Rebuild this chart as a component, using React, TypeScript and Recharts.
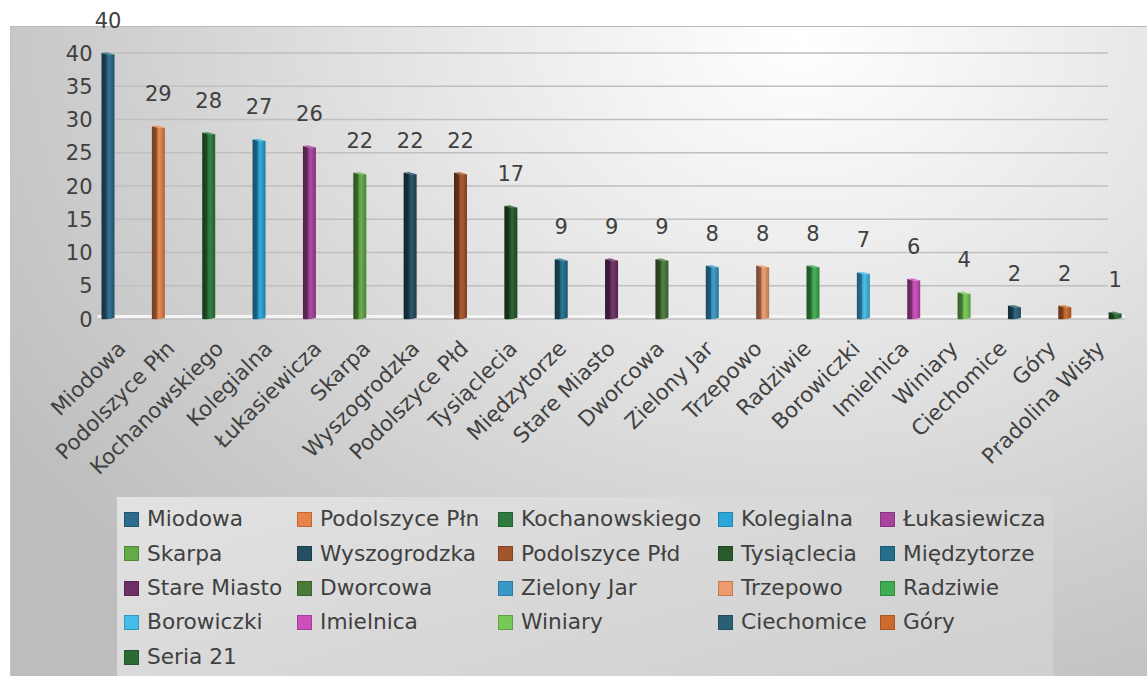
import React from 'react';
import { BarChart, Bar, XAxis, YAxis, CartesianGrid, LabelList, Cell, Legend } from 'recharts';

const categories = [
  'Miodowa', 'Podolszyce Płn', 'Kochanowskiego', 'Kolegialna', 'Łukasiewicza', 'Skarpa',
  'Wyszogrodzka', 'Podolszyce Płd', 'Tysiąclecia', 'Międzytorze', 'Stare Miasto', 'Dworcowa',
  'Zielony Jar', 'Trzepowo', 'Radziwie', 'Borowiczki', 'Imielnica', 'Winiary', 'Ciechomice',
  'Góry', 'Pradolina Wisły',
];
const values = [40, 29, 28, 27, 26, 22, 22, 22, 17, 9, 9, 9, 8, 8, 8, 7, 6, 4, 2, 2, 1];
const seriesNames = [
  'Miodowa', 'Podolszyce Płn', 'Kochanowskiego', 'Kolegialna', 'Łukasiewicza', 'Skarpa',
  'Wyszogrodzka', 'Podolszyce Płd', 'Tysiąclecia', 'Międzytorze', 'Stare Miasto', 'Dworcowa',
  'Zielony Jar', 'Trzepowo', 'Radziwie', 'Borowiczki', 'Imielnica', 'Winiary', 'Ciechomice',
  'Góry', 'Seria 21',
];
const seriesColors = [
  '#2b6b8c', '#e8834a', '#2f7a3e', '#2aa6da', '#a8449e', '#63ab46', '#244f62', '#a2542b',
  '#285a2e', '#236f8c', '#6e2f66', '#4a7a3a', '#3a98c8', '#ee9a6c', '#3fad52', '#43bde9',
  '#cc4fbc', '#76c956', '#2a5f78', '#cf6a2e', '#2d6b36',
];
const yTicks = [0, 5, 10, 15, 20, 25, 30, 35, 40];

const data = categories.map((name, i) => ({ name, value: values[i] }));

const FONT = "'DejaVu Sans', sans-serif";
const TEXT = '#404040';

const shade = (hex: string, f: number) => {
  const n = parseInt(hex.slice(1), 16);
  const ch = [(n >> 16) & 255, (n >> 8) & 255, n & 255].map((c) => {
    const v = f <= 1 ? c * f : c + (255 - c) * (f - 1);
    return Math.max(0, Math.min(255, Math.round(v)));
  });
  return '#' + ch.map((c) => c.toString(16).padStart(2, '0')).join('');
};

const CylBar = (props: any) => {
  const { x, y, width, height, fill } = props;
  let index = props.index;
  if (index === undefined && props.payload) index = categories.indexOf(props.payload.name);
  const base = fill || seriesColors[index] || '#888';
  const id = `cyl-${index}`;
  const w = width;
  return (
    <g>
      <defs>
        <linearGradient id={id} x1="0" y1="0" x2="1" y2="0">
          <stop offset="0" stopColor={shade(base, 0.48)} />
          <stop offset="0.36" stopColor={shade(base, 0.6)} />
          <stop offset="0.42" stopColor={shade(base, 0.88)} />
          <stop offset="0.6" stopColor={shade(base, 1.05)} />
          <stop offset="1" stopColor={shade(base, 0.75)} />
        </linearGradient>
      </defs>
      <path
        d={`M${x},${y} L${x + w},${y + 1.5} L${x + w},${y + height - 1.2} Q${x + w * 0.5},${y + height + 1} ${x},${y + height} Z`}
        fill={`url(#${id})`}
      />
      <path
        d={`M${x},${y} L${x + w * 0.4},${y - 0.8} L${x + w},${y + 1.5} L${x + w * 0.6},${y + 2.3} Z`}
        fill={shade(base, 1.2)}
      />
    </g>
  );
};

const gridLine = (props: any) => {
  const { x1, x2, y1, index } = props;
  const isFloor = props.y !== undefined && props.height !== undefined
    ? Math.abs(y1 - (props.y + props.height)) < 0.5
    : index === 0;
  if (isFloor) {
    return (
      <g key={`grid-${index}`}>
        <rect x={x1 + 15} y={y1 - 4} width={x2 - x1 - 30} height={4} fill="#f4f4f4" />
        <line x1={x1 + 15} x2={x2 - 15} y1={y1} y2={y1} stroke="#bdbdbd" strokeWidth={1.5} />
      </g>
    );
  }
  return (
    <line key={`grid-${index}`} x1={x1 + 17.5} x2={x2 - 32} y1={y1} y2={y1} stroke="#bfbfbf" strokeWidth={1.5} />
  );
};

const YTick = (props: any) => {
  const { x, y, payload } = props;
  return (
    <text x={x + 10} y={y} dy="0.36em" textAnchor="end" fill={TEXT} fontSize={21} fontFamily={FONT}>
      {payload.value}
    </text>
  );
};

const XTick = (props: any) => {
  const { x, y, payload } = props;
  return (
    <g transform={`translate(${x + 12},${y + 1})`}>
      <text x={0} y={0} transform="rotate(-45)" textAnchor="end" fill={TEXT} fontSize={21.4} fontFamily={FONT}>
        {payload.value}
      </text>
    </g>
  );
};

const colLefts = [124, 297, 498, 718, 880];
const rowCenters = [519, 553.5, 588, 622, 657];
const LEG_LEFT = 117;
const LEG_TOP = 497;

const LegendContent = () => (
  <div
    style={{
      position: 'relative',
      width: 936,
      height: 179,
      background: 'linear-gradient(165deg, #e2e2e2 0%, #d8d8d8 50%, #cfcfcf 100%)',
      fontFamily: FONT,
    }}
  >
    {seriesNames.map((name, i) => {
      const col = i % 5;
      const row = Math.floor(i / 5);
      const left = colLefts[col] - LEG_LEFT;
      const cy = rowCenters[row] - LEG_TOP;
      return (
        <div key={name} style={{ position: 'absolute', left, top: cy - 14, height: 28, display: 'flex', alignItems: 'center', whiteSpace: 'nowrap' }}>
          <span
            style={{
              display: 'inline-block',
              width: 15,
              height: 15,
              background: seriesColors[i],
              border: `1px solid ${shade(seriesColors[i], 0.8)}`,
              marginRight: 8,
              boxSizing: 'border-box',
            }}
          />
          <span style={{ fontSize: 21.7, color: TEXT, lineHeight: '28px' }}>{name}</span>
        </div>
      );
    })}
  </div>
);

export default function App() {
  return (
    <div style={{ position: 'fixed', left: 0, top: 0, width: 1147, height: 676, background: '#ffffff', overflow: 'hidden', fontFamily: FONT }}>
      <div
        style={{
          position: 'absolute',
          left: 10,
          top: 26,
          width: 1137,
          height: 650,
          borderTop: '1px solid #b9b9b9',
          borderLeft: '1px solid #c4c4c4',
          boxSizing: 'border-box',
          background:
            'radial-gradient(ellipse 950px 760px at 790px 10px, #ffffff 0%, #f4f4f4 18%, #e2e2e2 45%, #cfcfcf 72%, #bdbdbd 100%)',
        }}
      />
      <div style={{ position: 'absolute', left: 0, top: 0 }}>
        <BarChart width={1147} height={676} data={data} margin={{ top: 53, right: 7, left: 0, bottom: 0 }}>
          <CartesianGrid xAxisId="bars" vertical={false} horizontal={gridLine} />
          <XAxis xAxisId="bars" dataKey="name" hide />
          <XAxis
            xAxisId="labels"
            dataKey="name"
            height={357}
            interval={0}
            tickLine={false}
            axisLine={false}
            tickSize={0}
            tickMargin={0}
            padding={{ left: 8, right: 21.5 }}
            tick={<XTick />}
          />
          <YAxis
            width={82.5}
            domain={[0, 40]}
            ticks={yTicks}
            tickLine={false}
            axisLine={false}
            tickSize={0}
            tickMargin={0}
            tick={<YTick />}
          />
          <Legend
            verticalAlign="middle"
            align="center"
            layout="horizontal"
            wrapperStyle={{ left: LEG_LEFT, top: LEG_TOP, width: 936, height: 179 }}
            content={<LegendContent />}
          />
          <Bar xAxisId="bars" dataKey="value" barSize={13} isAnimationActive={false} shape={<CylBar />}>
            {data.map((d, i) => (
              <Cell key={d.name} fill={seriesColors[i]} />
            ))}
            <LabelList dataKey="value" position="top" offset={25} fill={TEXT} fontSize={21} fontFamily={FONT} />
          </Bar>
        </BarChart>
      </div>
    </div>
  );
}
